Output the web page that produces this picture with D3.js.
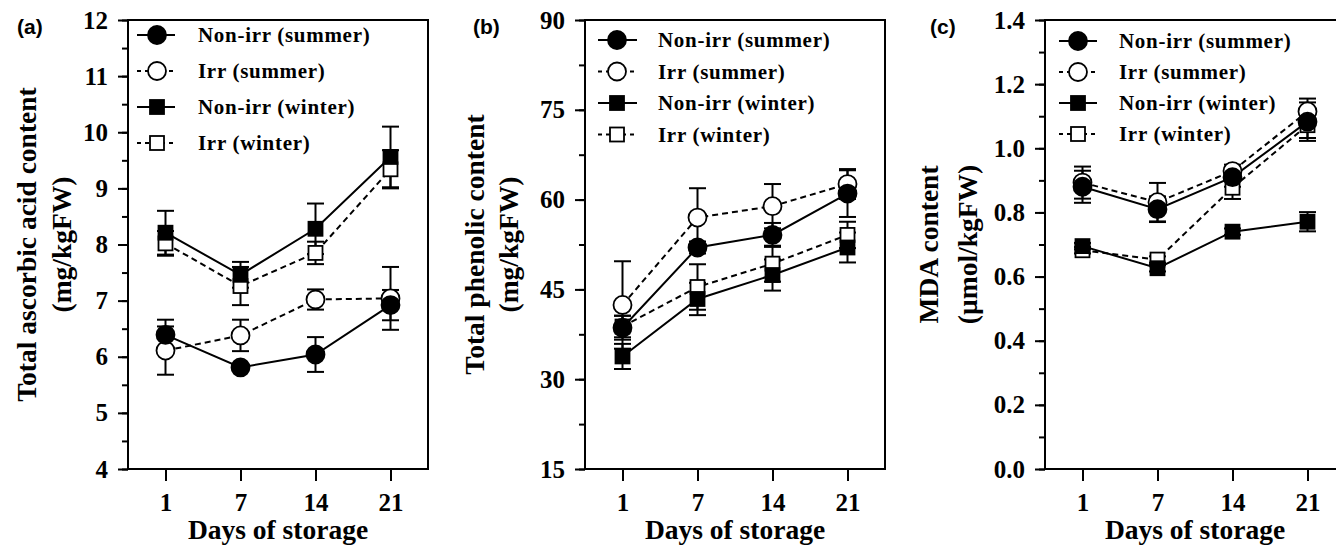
<!DOCTYPE html>
<html>
<head>
<meta charset="utf-8">
<script src="https://cdn.jsdelivr.net/npm/d3@7"></script>
<style>
  body { margin: 0; background: #fff; }
  svg { display: block; }
  .tick text { font-family: "Liberation Serif", "Times New Roman", serif; font-weight: bold; font-size: 25px; fill: #000; }
  .tick line { stroke: #000; stroke-width: 2; }
  .title { font-family: "Liberation Serif", "Times New Roman", serif; font-weight: bold; font-size: 27.5px; fill: #000; }
  .leg { font-family: "Liberation Serif", "Times New Roman", serif; font-weight: bold; font-size: 21px; letter-spacing: 0.7px; fill: #000; }
  .panel-label { font-family: "Liberation Sans", Arial, sans-serif; font-weight: bold; font-size: 21px; fill: #000; }
</style>
</head>
<body>
<script>
var days = ["1", "7", "14", "21"];
var seriesNames = ["Non-irr (summer)", "Irr (summer)", "Non-irr (winter)", "Irr (winter)"];

// (a) total ascorbic acid, rows = series in seriesNames order
var ascorbicMean = [
  [6.39, 5.81, 6.04, 6.92],
  [6.11, 6.38, 7.02, 7.04],
  [8.21, 7.46, 8.28, 9.56],
  [8.02, 7.26, 7.85, 9.34]
];
var ascorbicErr = [
  [0.27, 0.05, 0.31, 0.27],
  [0.43, 0.28, 0.18, 0.56],
  [0.39, 0.23, 0.45, 0.54],
  [0.22, 0.34, 0.20, 0.34]
];
var ascorbicTicks = [4, 5, 6, 7, 8, 9, 10, 11, 12];

// (b) total phenolic
var phenolicMean = [
  [38.6, 52.0, 54.1, 61.0],
  [42.4, 57.0, 58.9, 62.6],
  [33.8, 43.4, 47.4, 52.0],
  [38.8, 45.4, 49.3, 54.1]
];
var phenolicErr = [
  [2.0, 1.0, 2.0, 3.9],
  [7.3, 4.9, 3.7, 2.5],
  [2.1, 2.7, 2.6, 2.5],
  [1.8, 3.8, 3.0, 2.2]
];
var phenolicTicks = [15, 30, 45, 60, 75, 90];

// (c) MDA
var mdaMean = [
  [0.880, 0.810, 0.910, 1.083],
  [0.893, 0.832, 0.929, 1.115],
  [0.695, 0.626, 0.740, 0.771],
  [0.682, 0.653, 0.877, 1.072]
];
var mdaErr = [
  [0.05, 0.04, 0.03, 0.06],
  [0.05, 0.06, 0.02, 0.04],
  [0.01, 0.01, 0.01, 0.03],
  [0.01, 0.01, 0.035, 0.04]
];
var mdaTicks = [0.0, 0.2, 0.4, 0.6, 0.8, 1.0, 1.2, 1.4];

var seriesFill = ["#000", "#fff", "#000", "#fff"];
var seriesShape = ["circle", "circle", "square", "square"];
var seriesDash = [null, "6,4", null, "6,4"];
var drawOrder = [3, 1, 2, 0];

var W = 1336, H = 545,
    plotW = 300, plotH = 449, plotTop = 20;

var panels = [
  { label: "(a)", labelX: 17, left: 128, mean: ascorbicMean, err: ascorbicErr, ticks: ascorbicTicks,
    minorStep: 0.5, fmt: d3.format("d"),
    title: ["Total ascorbic acid content", "(mg/kgFW)"], titleX: [26, 61],
    leg: { line0: 9, line1: 47, mark: 29, text: 70, y0: 15, dy: 36 } },
  { label: "(b)", labelX: 473, left: 585, mean: phenolicMean, err: phenolicErr, ticks: phenolicTicks,
    minorStep: 7.5, fmt: d3.format("d"),
    title: ["Total phenolic content", "(mg/kgFW)"], titleX: [474, 508],
    leg: { line0: 13, line1: 52, mark: 32, text: 73, y0: 20, dy: 31.5 } },
  { label: "(c)", labelX: 930, left: 1045, mean: mdaMean, err: mdaErr, ticks: mdaTicks,
    minorStep: 0.1, fmt: d3.format(".1f"),
    title: ["MDA content", "(\u00b5mol/kgFW)"], titleX: [928, 967],
    leg: { line0: 14, line1: 52, mark: 33, text: 74, y0: 21, dy: 31 } }
];

var svg = d3.select("body").append("svg")
    .attr("width", W)
    .attr("height", H);

function drawMarker(g, shape, fill, cx, cy) {
  if (shape == "circle") {
    g.append("circle")
      .attr("cx", cx).attr("cy", cy).attr("r", 9)
      .style("fill", fill).style("stroke", "#000").style("stroke-width", 1.8);
  } else {
    g.append("rect")
      .attr("x", cx - 7).attr("y", cy - 7)
      .attr("width", 14).attr("height", 14)
      .style("fill", fill).style("stroke", "#000").style("stroke-width", 1.8);
  }
}

panels.forEach(function(p) {
  var g = svg.append("g")
      .attr("transform", "translate(" + p.left + "," + plotTop + ")");

  var x = d3.scalePoint().domain(days).range([0, plotW]).padding(0.5);
  var lo = p.ticks[0], hi = p.ticks[p.ticks.length - 1];
  var y = d3.scaleLinear().domain([lo, hi]).range([plotH, 0]);

  // minor ticks
  var minor = d3.range(lo, hi + 1e-9, p.minorStep);
  g.append("g")
    .call(d3.axisLeft(y).tickValues(minor).tickSize(6).tickFormat(""))
    .select(".domain").remove();

  // major y ticks
  g.append("g")
    .call(d3.axisLeft(y).tickValues(p.ticks).tickSize(10).tickPadding(10).tickFormat(p.fmt))
    .select(".domain").remove();

  // x ticks
  g.append("g")
    .attr("transform", "translate(0," + plotH + ")")
    .call(d3.axisBottom(x).tickSize(12).tickPadding(12))
    .select(".domain").remove();

  // box
  g.append("rect")
    .attr("x", 0).attr("y", 0)
    .attr("width", plotW).attr("height", plotH)
    .style("fill", "none").style("stroke", "#000").style("stroke-width", 2);

  // lines + error bars
  p.mean.forEach(function(vals, s) {
    var pts = vals.map(function(v, i) { return { day: days[i], v: v, e: p.err[s][i] }; });
    var line = d3.line()
      .x(function(d) { return x(d.day); })
      .y(function(d) { return y(d.v); });
    g.append("path")
      .datum(pts)
      .attr("d", line)
      .style("fill", "none").style("stroke", "#000").style("stroke-width", 2)
      .style("stroke-dasharray", seriesDash[s]);

    var eb = g.append("g");
    pts.forEach(function(d) {
      var cx = x(d.day);
      eb.append("line")
        .attr("x1", cx).attr("x2", cx)
        .attr("y1", y(d.v - d.e)).attr("y2", y(d.v + d.e))
        .style("stroke", "#000").style("stroke-width", 2);
      [d.v - d.e, d.v + d.e].forEach(function(c) {
        eb.append("line")
          .attr("x1", cx - 8.5).attr("x2", cx + 8.5)
          .attr("y1", y(c)).attr("y2", y(c))
          .style("stroke", "#000").style("stroke-width", 2);
      });
    });
  });

  // markers, filled ones on top
  drawOrder.forEach(function(s) {
    var mg = g.append("g");
    p.mean[s].forEach(function(v, i) {
      drawMarker(mg, seriesShape[s], seriesFill[s], x(days[i]), y(v));
    });
  });

  // legend
  var L = p.leg;
  seriesNames.forEach(function(name, s) {
    var ly = L.y0 + s * L.dy;
    var lg = g.append("g");
    lg.append("line")
      .attr("x1", L.line0).attr("x2", L.line1)
      .attr("y1", ly).attr("y2", ly)
      .style("stroke", "#000").style("stroke-width", 2)
      .style("stroke-dasharray", seriesDash[s] ? "4,4" : null);
    drawMarker(lg, seriesShape[s], seriesFill[s], L.mark, ly);
    lg.append("text")
      .attr("class", "leg")
      .attr("x", L.text).attr("y", ly)
      .attr("dy", "0.35em")
      .text(name);
  });

  // axis titles
  svg.append("text")
    .attr("class", "title")
    .attr("text-anchor", "middle")
    .attr("x", p.left + plotW / 2)
    .attr("y", 539)
    .text("Days of storage");

  p.title.forEach(function(t, k) {
    svg.append("text")
      .attr("class", "title")
      .attr("text-anchor", "middle")
      .attr("transform", "translate(" + p.titleX[k] + "," + (plotTop + plotH / 2) + ") rotate(-90)")
      .attr("dy", "0.35em")
      .text(t);
  });

  svg.append("text")
    .attr("class", "panel-label")
    .attr("x", p.labelX).attr("y", 34)
    .text(p.label);
});
</script>
</body>
</html>
